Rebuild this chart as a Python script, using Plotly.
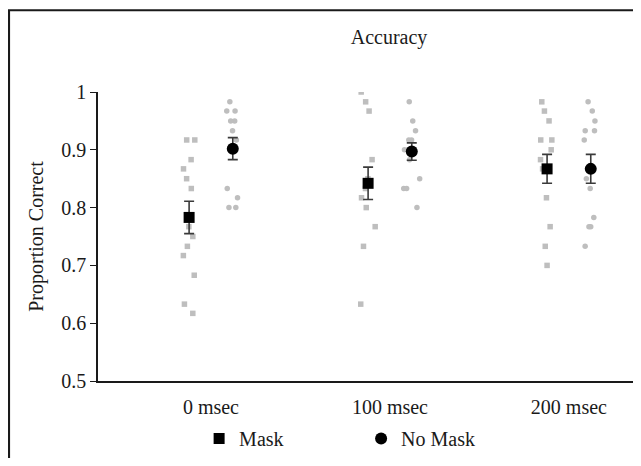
import plotly.graph_objects as go

# ---- data ----
conditions = ["0 msec", "100 msec", "200 msec"]
mask_mean = [0.783, 0.842, 0.867]
mask_err = [0.028, 0.028, 0.025]
nomask_mean = [0.902, 0.897, 0.867]
nomask_err = [0.019, 0.015, 0.025]

mask_0 = [0.917, 0.917, 0.883, 0.867, 0.850, 0.833, 0.767, 0.750, 0.733, 0.717, 0.683, 0.633, 0.617]
mask_100 = [1.000, 0.983, 0.967, 0.883, 0.850, 0.833, 0.817, 0.800, 0.767, 0.733, 0.633]
mask_200 = [0.983, 0.967, 0.950, 0.917, 0.917, 0.900, 0.883, 0.867, 0.817, 0.767, 0.733, 0.700]
nomask_0 = [0.983, 0.967, 0.967, 0.950, 0.950, 0.933, 0.917, 0.900, 0.833, 0.817, 0.800, 0.800]
nomask_100 = [0.983, 0.950, 0.933, 0.917, 0.917, 0.900, 0.883, 0.850, 0.833, 0.833, 0.800]
nomask_200 = [0.983, 0.967, 0.950, 0.933, 0.933, 0.917, 0.850, 0.833, 0.783, 0.767, 0.767, 0.733]

FONT = "Liberation Serif, Times New Roman, DejaVu Serif, serif"
TXT = "#1a1a1a"
OFF = 0.122
pos = list(range(len(conditions)))

fig = go.Figure()

def indiv(groups, offset, symbol):
    xs, ys = [], []
    for i, g in enumerate(groups):
        xs += [pos[i] + offset] * len(g)
        ys += g
    fig.add_trace(go.Box(
        x=xs, y=ys, boxpoints="all", jitter=1, pointpos=0, width=0.1,
        fillcolor="rgba(0,0,0,0)", line=dict(color="rgba(0,0,0,0)", width=0),
        whiskerwidth=0, marker=dict(symbol=symbol, size=5.5, color="#bebebe"),
        showlegend=False, hoveron="points"))

indiv([mask_0, mask_100, mask_200], -OFF, "square")
indiv([nomask_0, nomask_100, nomask_200], OFF, "circle")

fig.add_trace(go.Scatter(
    x=[p - OFF for p in pos], y=mask_mean, mode="markers", name="Mask",
    marker=dict(symbol="square", size=11, color="black"),
    error_y=dict(type="data", array=mask_err, color="#3a3a3a", thickness=1.6, width=5)))
fig.add_trace(go.Scatter(
    x=[p + OFF for p in pos], y=nomask_mean, mode="markers", name="No Mask",
    marker=dict(symbol="circle", size=12, color="black"),
    error_y=dict(type="data", array=nomask_err, color="#3a3a3a", thickness=1.6, width=5)))

# outer frame (cropped on right/bottom)
fig.add_shape(type="rect", xref="paper", yref="paper", x0=-0.1664, x1=1.2, y0=-0.5, y1=1.2828,
              line=dict(color=TXT, width=2.2), layer="below")

fig.update_layout(
    width=625, height=450,
    margin=dict(l=90, r=0, t=84, b=76),
    paper_bgcolor="white", plot_bgcolor="white",
    font=dict(family=FONT, size=20, color=TXT),
    title=dict(text="Accuracy", x=0.544, xref="paper", xanchor="center",
               y=1 - 29 / 450, yref="container", yanchor="middle",
               font=dict(family=FONT, size=20, color=TXT)),
    showlegend=True,
    legend=dict(orientation="h", x=0.189, xanchor="left", y=-0.2, yanchor="middle",
                font=dict(family=FONT, size=20, color=TXT), entrywidth=117,
                bgcolor="rgba(0,0,0,0)"),
    xaxis=dict(range=[-0.631, 2.358], tickvals=pos, ticktext=conditions,
               showline=True, linecolor=TXT, linewidth=1.6, ticks="outside",
               ticklen=7, tickcolor="rgba(0,0,0,0)", showgrid=False, zeroline=False,
               tickfont=dict(family=FONT, size=20, color=TXT)),
    yaxis=dict(range=[0.5, 1.0], tickvals=[0.5, 0.6, 0.7, 0.8, 0.9, 1.0],
               ticktext=["0.5", "0.6", "0.7", "0.8", "0.9", "1"],
               showline=True, linecolor=TXT, linewidth=1.6, ticks="outside",
               ticklen=6, tickcolor=TXT, tickwidth=1.4, showgrid=False, zeroline=False,
               tickfont=dict(family=FONT, size=20, color=TXT),
               title=dict(text="Proportion Correct", font=dict(family=FONT, size=20, color=TXT),
                          standoff=12)),
)

fig.write_html("out.html")
